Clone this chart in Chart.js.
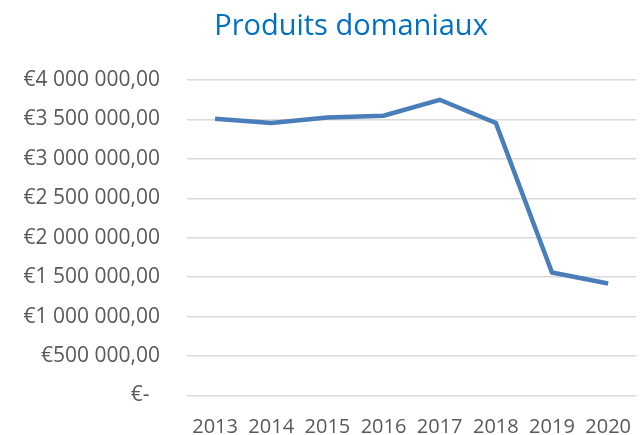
<!DOCTYPE html>
<html lang="fr">
<head>
    <meta charset="UTF-8">
    <title>Produits domaniaux</title>
    <script src="https://cdn.jsdelivr.net/npm/chart.js"></script>
    <style>
        html, body { margin: 0; padding: 0; background: #fff; }
        #wrap { width: 643px; height: 435px; }
    </style>
</head>
<body>
    <div id="wrap"><canvas id="chart"></canvas></div>

    <script>
        // data
        const years = ['2013', '2014', '2015', '2016', '2017', '2018', '2019', '2020'];
        const produits = [3510000, 3455000, 3523000, 3548000, 3749000, 3455000, 1558000, 1419000];
        const chartTitle = 'Produits domaniaux';

        const font = "'Open Sans', 'DejaVu Sans', sans-serif";

        function euro(v) {
            if (v === 0) return '€-\u2002'; // zero sits a little left, like the accounting format
            const s = Math.round(v).toString().replace(/\B(?=(\d{3})+(?!\d))/g, ' ');
            return '€' + s + ',00';
        }

        // title is drawn a bit right of the canvas centre, like in the original
        const titlePlugin = {
            id: 'offTitle',
            afterDraw(c) {
                const ctx = c.ctx;
                ctx.save();
                ctx.font = '29px ' + font;
                ctx.fillStyle = '#0070C0';
                ctx.textAlign = 'center';
                ctx.textBaseline = 'middle';
                ctx.fillText(chartTitle, 351, 27);
                ctx.restore();
            }
        };

        new Chart(document.getElementById('chart'), {
            type: 'line',
            data: {
                labels: years,
                datasets: [{
                    label: chartTitle,
                    data: produits,
                    borderColor: '#4A7EBB',
                    borderWidth: 4.5,
                    pointRadius: 0,
                    tension: 0,
                    fill: false
                }]
            },
            options: {
                responsive: true,
                maintainAspectRatio: false,
                animation: false,
                layout: { padding: { top: 80, right: 0, bottom: 0, left: 0 } },
                plugins: {
                    legend: { display: false },
                    tooltip: { enabled: false }
                },
                scales: {
                    x: {
                        offset: true,
                        grid: { display: false },
                        border: { display: false },
                        ticks: { color: '#595959', font: { family: font, size: 20 }, padding: 12, maxRotation: 0 },
                        afterFit(s) { s.height = 38; }
                    },
                    y: {
                        min: 0,
                        max: 4000000,
                        grid: { color: '#D9D9D9', lineWidth: 1.5, drawTicks: false },
                        border: { display: false },
                        ticks: {
                            stepSize: 500000,
                            color: '#595959',
                            font: { family: font, size: 21 },
                            padding: 27,
                            callback: v => euro(v)
                        },
                        afterFit(s) { s.width = 187; }
                    }
                }
            },
            plugins: [titlePlugin]
        });
    </script>
</body>
</html>
